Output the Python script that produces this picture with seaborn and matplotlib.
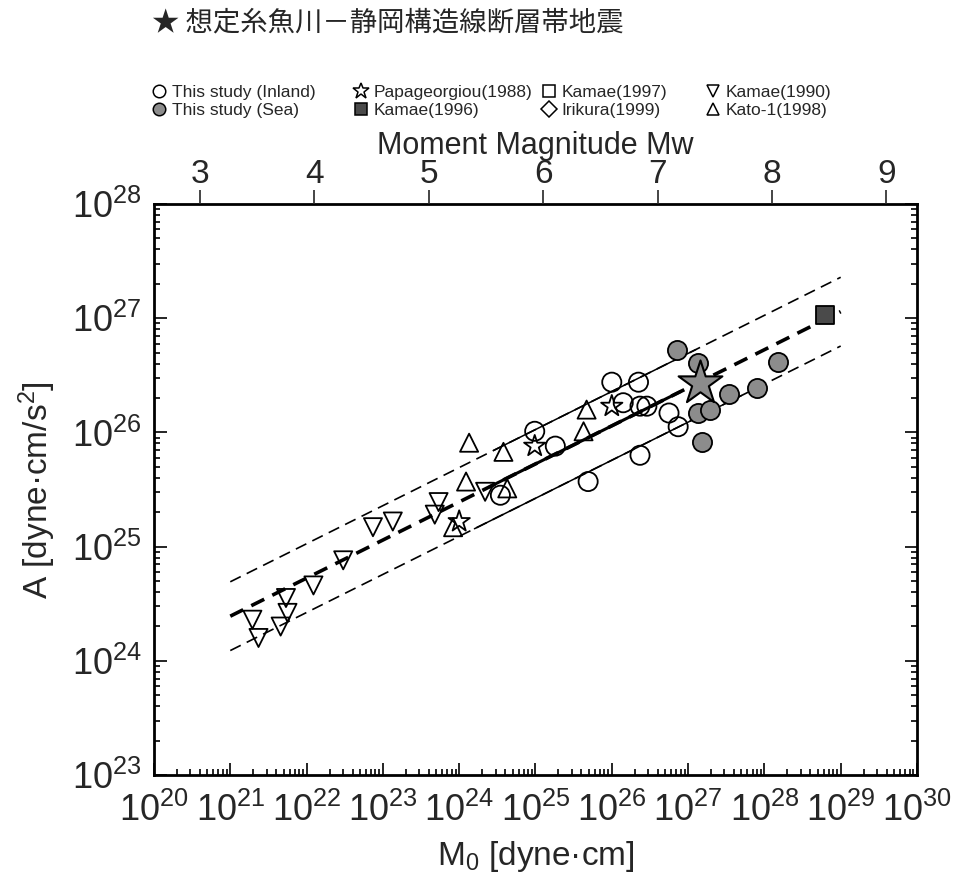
import numpy as np
import matplotlib
matplotlib.use("Agg")
import matplotlib.pyplot as plt
import seaborn as sns
from matplotlib.lines import Line2D
from matplotlib.ticker import LogLocator, NullFormatter

# ---- data (log10 values) ----
inland_m0 = [24.54, 24.99, 25.26, 25.69, 26.00, 26.15, 26.35, 26.37, 26.46, 26.37, 26.75, 26.87]
inland_a = [25.45, 26.01, 25.88, 25.57, 26.44, 26.26, 26.44, 26.23, 26.23, 25.80, 26.17, 26.05]

sea_m0 = [26.85, 27.13, 27.13, 27.29, 27.18, 27.53, 27.90, 28.18]
sea_a = [26.72, 26.61, 26.17, 26.20, 25.92, 26.34, 26.39, 26.62]

papa_m0 = [24.00, 24.99, 26.00]
papa_a = [25.22, 25.88, 26.23]

kamae96_m0 = [28.79]
kamae96_a = [27.03]

kamae90_m0 = [21.29, 21.37, 21.66, 21.73, 21.75, 22.09, 22.48, 22.87, 23.13, 23.73, 23.68, 24.34]
kamae90_a = [24.36, 24.20, 24.30, 24.55, 24.42, 24.66, 24.88, 25.17, 25.22, 25.39, 25.28, 25.48]

kato_m0 = [24.13, 24.58, 24.09, 23.92, 24.63, 25.67, 25.63]
kato_a = [25.91, 25.83, 25.57, 25.17, 25.51, 26.20, 26.01]

target_m0 = [27.16]
target_a = [26.43]

# Dan et al. relation A = 2.46e17 * M0^(1/3), with factor-2 bounds
dan_m0 = [1e21, 1e29]
dan_mid = [2.46e24, 1.142e27]
dan_up = [4.92e24, 2.284e27]
dan_lo = [1.23e24, 5.709e26]

# solid segments over the range of this study
fit_up_m0 = [10**24.45, 10**27.1]
fit_up_a = [6.95e25, 5.31e26]
fit_mid_m0 = [10**24.4, 10**26.9]
fit_mid_a = [3.344e25, 2.278e26]
fit_lo_m0 = [10**24.2, 10**27.7]
fit_lo_a = [1.434e25, 2.105e26]

legend_labels = ['This study (Inland)', 'This study (Sea)', 'Papageorgiou(1988)', 'Kamae(1996)',
                 'Kamae(1997)', 'Irikura(1999)', 'Kamae(1990)', 'Kato-1(1998)']

sns.set_theme(style="ticks")
plt.rcParams['font.family'] = ['Liberation Sans', 'Noto Sans CJK JP', 'DejaVu Sans']
plt.rcParams['mathtext.fontset'] = 'custom'
plt.rcParams['mathtext.rm'] = 'Liberation Sans'
plt.rcParams['mathtext.it'] = 'Liberation Sans:italic'

fig = plt.figure(figsize=(9.54, 8.81), dpi=100)
ax = fig.add_axes([0.1614, 0.1203, 0.7998, 0.6481])

# reference lines
sns.lineplot(x=dan_m0, y=dan_up, ax=ax, color='black', lw=1.2, linestyle=(0, (7, 4)))
sns.lineplot(x=dan_m0, y=dan_lo, ax=ax, color='black', lw=1.2, linestyle=(0, (7, 4)))
sns.lineplot(x=dan_m0, y=dan_mid, ax=ax, color='black', lw=2.6, linestyle=(0, (4, 2.5)))
sns.lineplot(x=fit_up_m0, y=fit_up_a, ax=ax, color='black', lw=1.1)
sns.lineplot(x=fit_lo_m0, y=fit_lo_a, ax=ax, color='black', lw=1.1)
sns.lineplot(x=fit_mid_m0, y=fit_mid_a, ax=ax, color='black', lw=2.2)

def pts(lst):
    return [10**v for v in lst]

common = dict(ax=ax, linewidth=1.3, edgecolor='black', zorder=3)
sns.scatterplot(x=pts(kamae90_m0), y=pts(kamae90_a), marker='v', s=170, facecolor='none', **common)
sns.scatterplot(x=pts(kato_m0), y=pts(kato_a), marker='^', s=170, facecolor='none', **common)
sns.scatterplot(x=pts(papa_m0), y=pts(papa_a), marker='*', s=260, facecolor='none', **common)
sns.scatterplot(x=pts(inland_m0), y=pts(inland_a), marker='o', s=190, facecolor='none', **common)
sns.scatterplot(x=pts(sea_m0), y=pts(sea_a), marker='o', s=190, facecolor='#8c8c8c', **common)
sns.scatterplot(x=pts(kamae96_m0), y=pts(kamae96_a), marker='s', s=150, facecolor='#4a4a4a', **common)
sns.scatterplot(x=pts(target_m0), y=pts(target_a), marker='*', s=1100, facecolor='#8c8c8c',
                ax=ax, linewidth=1.5, edgecolor='black', zorder=4)

ax.set_xscale('log')
ax.set_yscale('log')
ax.set_xlim(1e20, 1e30)
ax.set_ylim(1e23, 1e28)
ax.xaxis.set_major_locator(LogLocator(base=10, numticks=20))
ax.yaxis.set_major_locator(LogLocator(base=10, numticks=20))
ax.xaxis.set_minor_locator(LogLocator(base=10, subs=np.arange(2, 10), numticks=200))
ax.yaxis.set_minor_locator(LogLocator(base=10, subs=np.arange(2, 10), numticks=200))
ax.xaxis.set_minor_formatter(NullFormatter())
ax.yaxis.set_minor_formatter(NullFormatter())
ax.tick_params(which='both', direction='in', top=True, right=True, color='black', width=1.2)
ax.tick_params(which='major', length=9, labelsize=26)
ax.tick_params(axis='x', which='major', pad=13)
ax.tick_params(axis='y', which='major', pad=9)
ax.tick_params(which='minor', length=4.5)
for sp in ax.spines.values():
    sp.set_linewidth(2.0)
    sp.set_color('black')

ax.set_xlabel('M$_0$ [dyne·cm]', fontsize=24, labelpad=7)
ax.set_ylabel('A [dyne·cm/s$^2$]', fontsize=24, labelpad=10)

# top axis: moment magnitude, log10(M0) = 1.5 Mw + 16.1
ax2 = ax.twiny()
ax2.set_xlim((20 - 16.1) / 1.5, (30 - 16.1) / 1.5)
ax2.set_xticks([3, 4, 5, 6, 7, 8, 9])
ax2.tick_params(axis='x', direction='out', length=10, width=1.2, labelsize=24, pad=0)
ax2.set_xlabel('Moment Magnitude Mw', fontsize=22, labelpad=4)
for sp in ax2.spines.values():
    sp.set_visible(False)

# title with target star
fig.text(152 / 954, 1 - 23 / 881, '★ 想定糸魚川－静岡構造線断層帯地震', fontsize=19.7,
         family=['Noto Sans CJK JP', 'DejaVu Sans'], va='center', ha='left')

# legend, four columns of two entries each
mk = dict(color='black', linestyle='none', markersize=9, markeredgewidth=1.1, markeredgecolor='black')
handles = [
    Line2D([], [], marker='o', markerfacecolor='none', **mk),
    Line2D([], [], marker='o', markerfacecolor='#8c8c8c', **mk),
    Line2D([], [], marker='*', markerfacecolor='none', **{**mk, 'markersize': 12}),
    Line2D([], [], marker='s', markerfacecolor='#4a4a4a', **mk),
    Line2D([], [], marker='s', markerfacecolor='none', **mk),
    Line2D([], [], marker='D', markerfacecolor='none', **{**mk, 'markersize': 8}),
    Line2D([], [], marker='v', markerfacecolor='none', **mk),
    Line2D([], [], marker='^', markerfacecolor='none', **mk),
]
col_x = [143, 345, 533, 697]
for i, x0 in enumerate(col_x):
    fig.legend(handles[2 * i:2 * i + 2], legend_labels[2 * i:2 * i + 2], loc='upper left',
               bbox_to_anchor=(x0 / 954, 1 - 76 / 881), frameon=False, fontsize=12.5,
               handlelength=0.8, handletextpad=0.35, labelspacing=0.2, borderpad=0)

fig.savefig('out.png', dpi=100)
